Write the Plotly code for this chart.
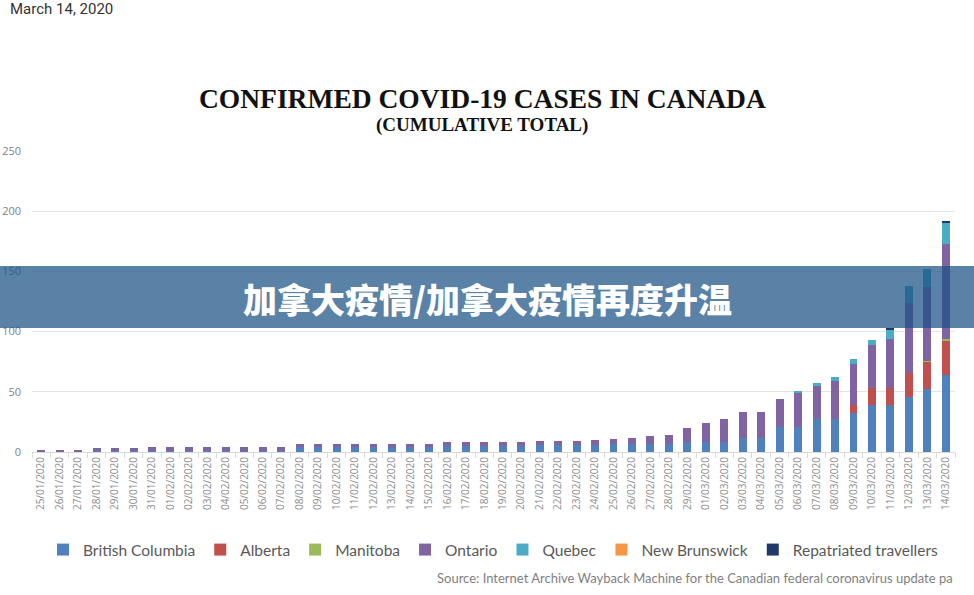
import plotly.graph_objects as go

dates = [
    "25/01/2020", "26/01/2020", "27/01/2020", "28/01/2020", "29/01/2020", "30/01/2020", "31/01/2020",
    "01/02/2020", "02/02/2020", "03/02/2020", "04/02/2020", "05/02/2020", "06/02/2020", "07/02/2020",
    "08/02/2020", "09/02/2020", "10/02/2020", "11/02/2020", "12/02/2020", "13/02/2020", "14/02/2020",
    "15/02/2020", "16/02/2020", "17/02/2020", "18/02/2020", "19/02/2020", "20/02/2020", "21/02/2020",
    "22/02/2020", "23/02/2020", "24/02/2020", "25/02/2020", "26/02/2020", "27/02/2020", "28/02/2020",
    "29/02/2020", "01/03/2020", "02/03/2020", "03/03/2020", "04/03/2020", "05/03/2020", "06/03/2020",
    "07/03/2020", "08/03/2020", "09/03/2020", "10/03/2020", "11/03/2020", "12/03/2020", "13/03/2020",
    "14/03/2020",
]

british_columbia = [0, 0, 0, 1, 1, 1, 1, 1, 1, 1, 1, 1, 1, 1, 4, 4, 4, 4, 4, 4, 4, 4, 5, 5, 5, 5, 5,
                    6, 6, 6, 6, 7, 7, 7, 7, 8, 8, 8, 12, 12, 21, 21, 27, 27, 32, 39, 39, 46, 52, 64]
alberta = [0] * 44 + [7, 14, 14, 20, 23, 29]
manitoba = [0] * 48 + [1, 1]
ontario = [1, 1, 2, 2, 2, 2, 3, 3, 3, 3, 3, 3, 3, 3, 3, 3, 3, 3, 3, 3, 3, 3, 3, 3, 3, 3, 3,
           3, 3, 3, 4, 4, 5, 6, 7, 12, 16, 19, 21, 21, 23, 28, 28, 32, 34, 36, 41, 58, 61, 79]
quebec = [0] * 41 + [1, 2, 3, 4, 4, 8, 14, 15, 17]
new_brunswick = [0] * 50
repatriated = [0] * 46 + [1, 0, 0, 2]

series_names = ["British Columbia", "Alberta", "Manitoba", "Ontario", "Quebec",
                "New Brunswick", "Repatriated travellers"]
series_values = [british_columbia, alberta, manitoba, ontario, quebec, new_brunswick, repatriated]
series_colors = ["#4F81BD", "#C0504D", "#9BBB59", "#8064A2", "#4BACC6", "#F79646", "#1F3A68"]

y_ticks = [0, 50, 100, 150, 200, 250]

fig = go.Figure()
for name, vals, color in zip(series_names, series_values, series_colors):
    fig.add_trace(go.Bar(x=dates, y=vals, name=name,
                         marker=dict(color=color, line=dict(width=0))))

# pixel -> paper helpers (plot area: x 32..955, y 151..452)
L, R, T, B = 32, 955, 151, 452
def px(x):
    return (x - L) / (R - L)
def py(y):
    return (B - y) / (B - T)

fig.update_layout(
    template="none",
    barmode="stack",
    bargap=0.57,
    width=974, height=595,
    margin=dict(l=L, r=974 - R, t=T, b=595 - B, pad=0),
    paper_bgcolor="white", plot_bgcolor="white",
    showlegend=True,
    legend=dict(orientation="h", x=0.5, xanchor="center", y=py(550), yanchor="middle",
                font=dict(family="Lato", size=15.5, color="#595959"), traceorder="normal",
                itemwidth=30, bgcolor="rgba(0,0,0,0)"),
    xaxis=dict(type="category", tickangle=-90, automargin=False,
               tickfont=dict(family="Open Sans", size=10, color="#8C8C8C"),
               ticks="outside", tickson="boundaries", ticklen=5, tickcolor="#D9D9D9",
               showline=True, linecolor="#D9D9D9", linewidth=1, showgrid=False, zeroline=False),
    yaxis=dict(range=[0, 250], tickvals=y_ticks, automargin=False,
               tickfont=dict(family="Open Sans", size=11, color="#7F7F7F"),
               showgrid=True, gridcolor="#E4E4E4", gridwidth=1, zeroline=False, showline=False,
               ticks="", ticklabelstandoff=10),
    font=dict(family="Open Sans"),
)

fig.add_shape(type="rect", xref="paper", yref="paper", x0=-0.06, x1=1.06,
              y0=py(328), y1=py(266), fillcolor="rgba(27,80,131,0.72)", line=dict(width=0),
              layer="above")

fig.add_annotation(xref="paper", yref="paper", x=px(8), y=py(9), xanchor="left", yanchor="middle",
                   text="March 14, 2020", showarrow=False,
                   font=dict(family="Roboto", size=15, color="#333333"))
fig.add_annotation(xref="paper", yref="paper", x=px(482), y=py(98), xanchor="center", yanchor="middle",
                   text="<b>CONFIRMED COVID-19 CASES IN CANADA</b>", showarrow=False,
                   font=dict(family="Liberation Serif", size=27.5, color="#111111"))
fig.add_annotation(xref="paper", yref="paper", x=px(482), y=py(125), xanchor="center", yanchor="middle",
                   text="<b>(CUMULATIVE TOTAL)</b>", showarrow=False,
                   font=dict(family="Liberation Serif", size=19, color="#111111"))
fig.add_annotation(xref="paper", yref="paper", x=px(487), y=py(298), xanchor="center", yanchor="middle",
                   text="加拿大疫情/加拿大疫情再度升温", showarrow=False,
                   font=dict(family="Noto Sans CJK SC", size=34, color="white", weight=900))
fig.add_annotation(xref="paper", yref="paper", x=1.0, y=py(578), xanchor="right", yanchor="middle",
                   text="Source: Internet Archive Wayback Machine for the Canadian federal coronavirus update pa",
                   showarrow=False, font=dict(family="Lato", size=13, color="#7F7F7F"))

fig.write_html("out.html")
